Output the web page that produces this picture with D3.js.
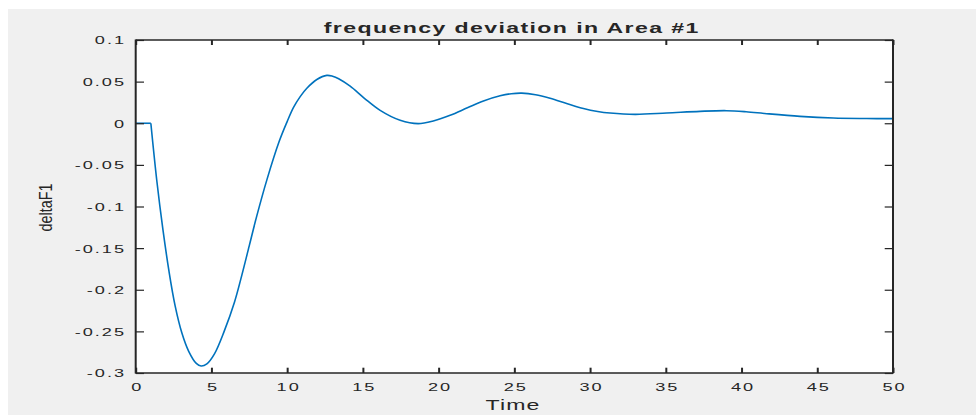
<!DOCTYPE html>
<html>
<head>
<meta charset="utf-8">
<script src="https://cdn.jsdelivr.net/npm/d3@7"></script>
<style>
  html, body { margin: 0; padding: 0; background: #ffffff; }
  svg { display: block; }
  text { font-family: "Liberation Sans", Arial, Helvetica, sans-serif; fill: #262626; }
</style>
</head>
<body>
<svg id="chart" width="976" height="415"></svg>
<script>
// ---- data ----
const title = "frequency deviation in Area #1";
const xLabel = "Time";
const yLabel = "deltaF1";
const xTicks = [0, 5, 10, 15, 20, 25, 30, 35, 40, 45, 50];
const yTicks = [0.1, 0.05, 0, -0.05, -0.1, -0.15, -0.2, -0.25, -0.3];
const timeStep = [0, 1.0];
const valueStep = [0, 0];
const time = [1.0, 1.4, 1.8, 2.2, 2.6, 3.05, 3.5, 4.0, 4.32, 4.7, 5.2, 5.84, 6.52, 7.0, 7.5, 8.0, 8.66,
  9.47, 10.0, 10.42, 10.86, 11.3, 11.96, 12.62, 13.0, 13.4, 14.16, 15.1, 16.14, 17.46, 18.65, 19.7,
  20.76, 21.9, 22.96, 24.06, 24.8, 25.49, 26.4, 27.36, 28.5, 29.56, 30.5, 31.32, 32.97, 35.06, 37.26,
  39.0, 40.3, 41.66, 43.86, 46.06, 48.26, 50];
const deltaF1 = [0, -0.07, -0.128, -0.178, -0.219, -0.252, -0.274, -0.2885, -0.2916, -0.289, -0.277,
  -0.25, -0.215, -0.183, -0.147, -0.111, -0.068, -0.022, 0.002, 0.019, 0.032, 0.042, 0.0525, 0.0575,
  0.0565, 0.0535, 0.0445, 0.030, 0.0154, 0.0035, -0.0005, 0.003, 0.0095, 0.0185, 0.0268, 0.0330,
  0.0355, 0.0362, 0.0343, 0.0300, 0.0235, 0.0178, 0.0142, 0.0123, 0.0107, 0.0123, 0.0143, 0.0151,
  0.0138, 0.0115, 0.0083, 0.0063, 0.0057, 0.0055];

// ---- layout ----
const svg = d3.select("#chart");
const L = 135.7, R = 893, T = 40, B = 373;
const SX = 1.65;          // horizontal stretch of the reference text
const ink = "#262626";

svg.append("rect").attr("x", 8).attr("y", 9).attr("width", 968).attr("height", 406).attr("fill", "#f0f0f0");

const x = d3.scaleLinear().domain([0, 50]).range([L, R]);
const y = d3.scaleLinear().domain([-0.3, 0.1]).range([B, T]);

svg.append("rect").attr("x", L).attr("y", T).attr("width", R - L).attr("height", B - T).attr("fill", "#ffffff");

const fmt = d => String(+d.toFixed(2));

// line
const stepData = timeStep.map((t, i) => [t, valueStep[i]]);
const mainData = time.map((t, i) => [t, deltaF1[i]]);
svg.append("path").datum(stepData).attr("d", d3.line().x(d => x(d[0])).y(d => y(d[1])))
  .attr("fill", "none").attr("stroke", "#0072BD").attr("stroke-width", 1.6);
svg.append("path").datum(mainData)
  .attr("d", d3.line().x(d => x(d[0])).y(d => y(d[1])).curve(d3.curveCatmullRom.alpha(0.5)))
  .attr("fill", "none").attr("stroke", "#0072BD").attr("stroke-width", 1.6).attr("stroke-linejoin", "round");

// axes
const gB = svg.append("g").attr("transform", `translate(0,${B})`)
  .call(d3.axisBottom(x).tickValues(xTicks).tickSizeInner(-5.3).tickSizeOuter(0).tickFormat(fmt));
const gT = svg.append("g").attr("transform", `translate(0,${T})`)
  .call(d3.axisTop(x).tickValues(xTicks).tickSizeInner(-5).tickSizeOuter(0).tickFormat(""));
const gL = svg.append("g").attr("transform", `translate(${L},0)`)
  .call(d3.axisLeft(y).tickValues(yTicks).tickSizeInner(-8.3).tickSizeOuter(0).tickFormat(fmt));
const gR = svg.append("g").attr("transform", `translate(${R},0)`)
  .call(d3.axisRight(y).tickValues(yTicks).tickSizeInner(-8.3).tickSizeOuter(0).tickFormat(""));

[gB, gT, gL, gR].forEach(g => {
  g.select(".domain").remove();
  g.selectAll(".tick line").attr("stroke", ink);
});
gB.selectAll(".tick line").attr("stroke-width", 2);
gT.selectAll(".tick line").attr("stroke-width", 2);
gL.selectAll(".tick line").attr("stroke-width", 1.2);
gR.selectAll(".tick line").attr("stroke-width", 1.2);
[gT, gR].forEach(g => g.selectAll(".tick text").remove());

const LS = 1.2; // letter spacing (pre-scale)
gB.selectAll(".tick text")
  .attr("y", null).attr("dy", null).attr("x", null)
  .attr("font-size", 11).attr("font-family", null).attr("fill", ink)
  .attr("text-anchor", "middle").style("letter-spacing", LS + "px")
  .attr("transform", `translate(${LS * SX / 2},${390.7 - B}) scale(${SX},1)`);
gL.selectAll(".tick text")
  .attr("x", null).attr("dy", "0.36em")
  .attr("font-size", 11).attr("font-family", null).attr("fill", ink)
  .attr("text-anchor", "end").style("letter-spacing", LS + "px")
  .attr("transform", `translate(${124 - L + LS * SX},0) scale(${SX},1)`);

// box
svg.append("line").attr("x1", L).attr("x2", L).attr("y1", T - 0.6).attr("y2", B + 0.6).attr("stroke", ink).attr("stroke-width", 2);
svg.append("line").attr("x1", R).attr("x2", R).attr("y1", T - 0.6).attr("y2", B + 0.6).attr("stroke", ink).attr("stroke-width", 2);
svg.append("line").attr("x1", L).attr("x2", R).attr("y1", T).attr("y2", T).attr("stroke", ink).attr("stroke-width", 1.3);
svg.append("line").attr("x1", L).attr("x2", R).attr("y1", B).attr("y2", B).attr("stroke", ink).attr("stroke-width", 1.3);

// title & labels
svg.append("text").text(title)
  .attr("transform", `translate(${511 + 0.85 * SX / 2},33.3) scale(${SX},1)`)
  .attr("text-anchor", "middle").attr("font-size", 14).attr("font-weight", "bold")
  .style("letter-spacing", "0.85px");
svg.append("text").text(xLabel)
  .attr("transform", `translate(${512.5 + 0.7 * SX / 2},410) scale(${SX},1)`)
  .attr("text-anchor", "middle").attr("font-size", 14)
  .style("letter-spacing", "0.7px");
svg.append("text").text(yLabel)
  .attr("transform", `translate(52.3,207.5) scale(1.3,1) rotate(-90)`)
  .attr("text-anchor", "middle").attr("font-size", 14.4);
</script>
</body>
</html>
